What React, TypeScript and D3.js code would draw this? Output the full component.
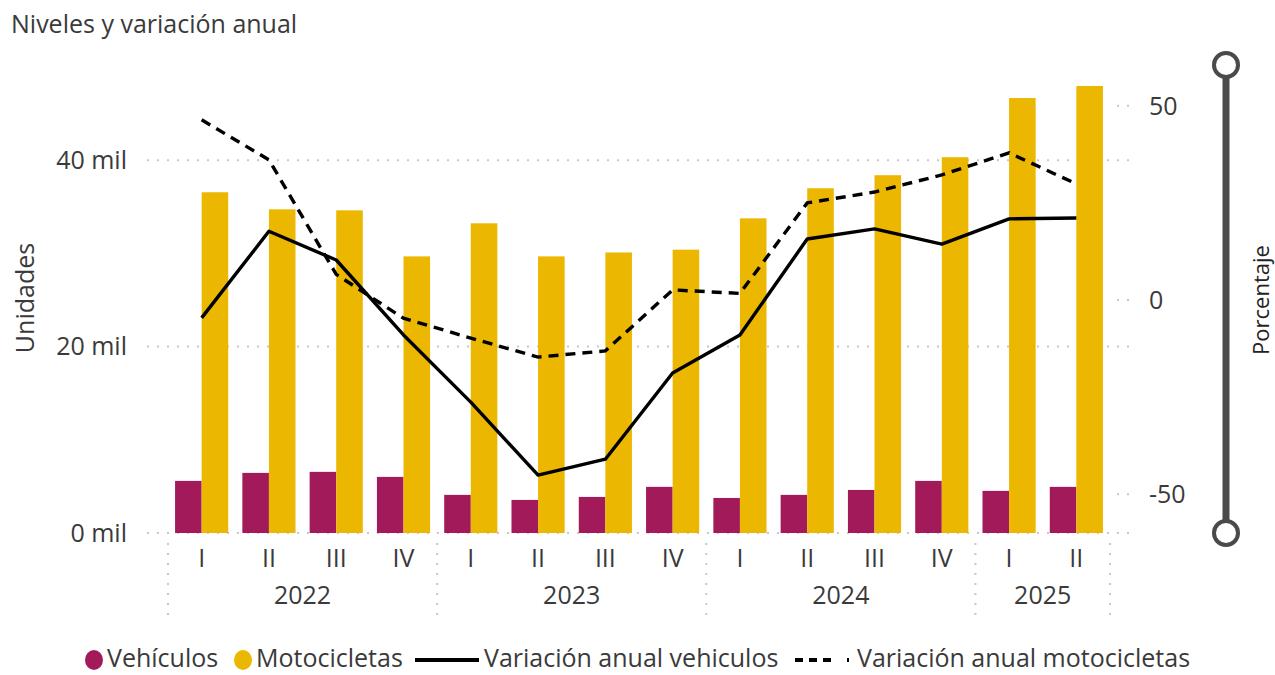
import React from 'react';
import * as d3 from 'd3';

const quarterLabels = ['I', 'II', 'III', 'IV', 'I', 'II', 'III', 'IV', 'I', 'II', 'III', 'IV', 'I', 'II'];
const yearLabels = ['2022', '2023', '2024', '2025'];
const quartersPerYear = [4, 4, 4, 2];

const vehiculos = [5590, 6450, 6560, 6020, 4090, 3550, 3870, 4950, 3760, 4090, 4620, 5590, 4520, 4950];
const motocicletas = [36560, 34730, 34620, 29680, 33230, 29680, 30100, 30400, 33760, 36990, 38390, 40320, 46670, 47960];
const varVehiculos = [-4.6, 17.7, 10.3, -9, -26.3, -45.1, -41, -18.8, -9.0, 15.7, 18.3, 14.4, 20.9, 21.1];
const varMotocicletas = [46.4, 36.1, 6.6, -4.7, -9.8, -14.7, -13.1, 2.6, 1.7, 25, 27.8, 32.2, 37.9, 29.9];

const leftTicks = [0, 20000, 40000];
const rightTicks = [-50, 0, 50];

const PURPLE = '#A31A5B';
const GOLD = '#EBB700';
const TEXT = '#3a3a3a';
const FONT = "'Open Sans', 'Noto Sans', sans-serif";
const FS = 25;

function App() {
  const width = 1275;
  const height = 675;
  const plot = { left: 168, right: 1110, top: 67, bottom: 533 };

  const idx = quarterLabels.map((_, i) => i);
  const x = d3.scaleBand<number>().domain(idx).range([plot.left, plot.right]);
  const step = x.step();
  const bw = step * 0.395;
  const cx = (i: number) => (x(i) as number) + step / 2;

  const yL = d3.scaleLinear().domain([0, 50000]).range([plot.bottom, plot.top]);
  const yR = d3.scaleLinear().domain([-60, 60]).range([plot.bottom, plot.top]);

  const varLine = d3
    .line<number>()
    .x((_, i) => cx(i))
    .y((d) => yR(d));

  // year groups
  let start = 0;
  const yearGroups = yearLabels.map((label, k) => {
    const s = start;
    start += quartersPerYear[k];
    return { label, x0: x(s) as number, x1: (x(start - 1) as number) + step };
  });

  const legendY = 660;
  const legendText = 658.5;

  return (
    <svg
      width={width}
      height={height}
      style={{ position: 'absolute', left: 0, top: 0, fontFamily: FONT }}
    >
      <text x={11} y={33} fontSize={FS} fill={TEXT}>
        Niveles y variación anual
      </text>

      {/* gridlines */}
      {leftTicks.map((t) => (
        <line
          key={t}
          x1={147}
          x2={1132}
          y1={yL(t)}
          y2={yL(t)}
          stroke='#c8c8c8'
          strokeWidth={2}
          strokeDasharray='2,8'
        />
      ))}
      {rightTicks.map((t) => (
        <line
          key={'r' + t}
          x1={1117}
          x2={1132}
          y1={yR(t)}
          y2={yR(t)}
          stroke='#c8c8c8'
          strokeWidth={2}
          strokeDasharray='2,8'
        />
      ))}

      {/* left axis */}
      {leftTicks.map((t) => (
        <text key={'lt' + t} x={127} y={yL(t)} dy='0.35em' textAnchor='end' fontSize={FS} fill={TEXT}>
          {`${t / 1000} mil`}
        </text>
      ))}
      <text
        transform={`translate(34,${(plot.top + plot.bottom) / 2 - 2}) rotate(-90)`}
        textAnchor='middle'
        fontSize={FS}
        fill={TEXT}
      >
        Unidades
      </text>

      {/* right axis */}
      {rightTicks.map((t) => (
        <text key={'rt' + t} x={1149} y={yR(t)} dy='0.35em' textAnchor='start' fontSize={FS} fill={TEXT}>
          {t}
        </text>
      ))}
      <text
        transform={`translate(1269,${(plot.top + plot.bottom) / 2}) rotate(-90)`}
        textAnchor='middle'
        fontSize={22}
        fill='#222'
      >
        Porcentaje
      </text>
      <line x1={1226} x2={1226} y1={plot.top - 2} y2={plot.bottom} stroke='#4a4a4a' strokeWidth={7} />
      {[plot.top - 2, plot.bottom].map((cy) => (
        <circle key={cy} cx={1226} cy={cy} r={12} fill='#fff' stroke='#4a4a4a' strokeWidth={4} />
      ))}

      {/* bars */}
      {vehiculos.map((v, i) => (
        <rect key={'v' + i} x={cx(i) - bw} y={yL(v)} width={bw} height={yL(0) - yL(v)} fill={PURPLE} />
      ))}
      {motocicletas.map((v, i) => (
        <rect key={'m' + i} x={cx(i)} y={yL(v)} width={bw} height={yL(0) - yL(v)} fill={GOLD} />
      ))}

      {/* lines */}
      <path d={varLine(varVehiculos) || ''} fill='none' stroke='#000' strokeWidth={3.4} strokeLinejoin='round' />
      <path
        d={varLine(varMotocicletas) || ''}
        fill='none'
        stroke='#000'
        strokeWidth={3.4}
        strokeDasharray='10,7'
      />

      {/* x axis */}
      {quarterLabels.map((q, i) => (
        <text key={'q' + i} x={cx(i)} y={558} dy='0.35em' textAnchor='middle' fontSize={FS} fill={TEXT}>
          {q}
        </text>
      ))}
      {yearGroups.map((g) => (
        <text key={g.label} x={(g.x0 + g.x1) / 2} y={595} dy='0.35em' textAnchor='middle' fontSize={FS} fill={TEXT}>
          {g.label}
        </text>
      ))}
      {[...yearGroups.map((g) => g.x0), plot.right].map((sx, k) => (
        <line
          key={'s' + k}
          x1={sx}
          x2={sx}
          y1={543}
          y2={616}
          stroke='#c8c8c8'
          strokeWidth={2}
          strokeDasharray='2,8'
        />
      ))}

      {/* legend */}
      <g fontSize={FS} fill={TEXT}>
        <ellipse cx={94} cy={legendY} rx={9} ry={10} fill={PURPLE} />
        <text x={107} y={legendText} dy='0.35em'>
          Vehículos
        </text>
        <ellipse cx={243} cy={legendY} rx={9} ry={10} fill={GOLD} />
        <text x={256} y={legendText} dy='0.35em'>
          Motocicletas
        </text>
        <line x1={415} x2={479} y1={legendY} y2={legendY} stroke='#000' strokeWidth={4} />
        <text x={484} y={legendText} dy='0.35em'>
          Variación anual vehiculos
        </text>
        <line
          x1={795}
          x2={850}
          y1={legendY}
          y2={legendY}
          stroke='#000'
          strokeWidth={4}
          strokeDasharray='8,6,8,6,8,16,2'
        />
        <text x={857} y={legendText} dy='0.35em'>
          Variación anual motocicletas
        </text>
      </g>
    </svg>
  );
}

export default App;
